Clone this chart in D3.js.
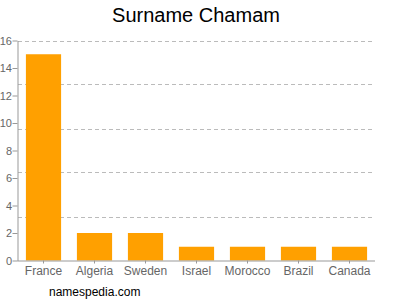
<!DOCTYPE html>
<html>
<head>
<meta charset="utf-8">
<script src="https://cdn.jsdelivr.net/npm/d3@7"></script>
<style>
  body { margin: 0; background: #fff; }
  svg { display: block; font-family: "Liberation Sans", Arial, sans-serif; }
</style>
</head>
<body>
<div id="chart"></div>
<script>
// Chart data
var countries = ["France", "Algeria", "Sweden", "Israel", "Morocco", "Brazil", "Canada"];
var counts = [15, 2, 2, 1, 1, 1, 1];
var yTicks = [0, 2, 4, 6, 8, 10, 12, 14, 16];
var gridValues = [3.2, 6.4, 9.6, 12.8, 16];

var svgWidth = 400;
var svgHeight = 300;

var svg = d3.select("#chart")
    .append("svg")
    .attr("width", svgWidth)
    .attr("height", svgHeight);

// Scales
var xScale = d3.scaleBand()
    .domain(countries)
    .range([18, 375])
    .paddingInner(0.31)
    .paddingOuter(0.155);

var yScale = d3.scaleLinear()
    .domain([0, 16])
    .range([260.5, 40.5]);

// Title
svg.append("text")
    .attr("x", 196)
    .attr("y", 22)
    .attr("text-anchor", "middle")
    .style("font-size", "20px")
    .style("fill", "#000")
    .text("Surname Chamam");

// Dashed grid lines
svg.append("g")
    .selectAll("line")
    .data(gridValues)
    .enter()
    .append("line")
    .attr("x1", 18)
    .attr("x2", 375)
    .attr("y1", d => Math.round(yScale(d)) + 0.5)
    .attr("y2", d => Math.round(yScale(d)) + 0.5)
    .attr("stroke", "#bbb")
    .attr("stroke-dasharray", "4,3");

// Bars
svg.append("g")
    .selectAll("rect")
    .data(countries)
    .enter()
    .append("rect")
    .attr("x", d => xScale(d))
    .attr("y", (d, i) => yScale(counts[i]))
    .attr("width", xScale.bandwidth())
    .attr("height", (d, i) => yScale(0) - yScale(counts[i]))
    .attr("fill", "#ffa000");

// Y axis
var yAxis = svg.append("g")
    .attr("transform", "translate(17.5,0)")
    .call(d3.axisLeft(yScale).tickValues(yTicks).tickSize(5).tickSizeOuter(0).tickPadding(0.5));

// X axis
var xAxis = svg.append("g")
    .attr("transform", `translate(0,${yScale(0)})`)
    .call(d3.axisBottom(xScale).tickSize(3).tickSizeOuter(0).tickPadding(3));

xAxis.select(".domain").attr("d", "M17.5,0.5H375");

[yAxis, xAxis].forEach(function(ax) {
    ax.select(".domain").attr("stroke", "#999");
    ax.selectAll(".tick line").attr("stroke", "#999");
    ax.selectAll(".tick text")
        .style("font-family", "Liberation Sans, Arial, sans-serif")
        .attr("fill", "#666");
});
yAxis.selectAll(".tick text").style("font-size", "11px");
xAxis.selectAll(".tick text").style("font-size", "12px");

// Footer
svg.append("text")
    .attr("x", 49)
    .attr("y", 296)
    .style("font-size", "12px")
    .style("fill", "#000")
    .text("namespedia.com");
</script>
</body>
</html>
